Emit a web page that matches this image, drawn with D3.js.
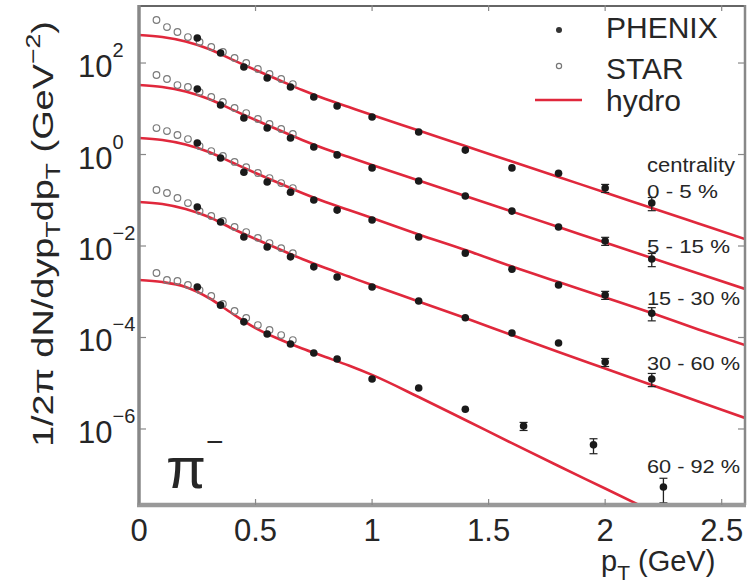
<!DOCTYPE html>
<html><head><meta charset="utf-8">
<script src="https://cdn.jsdelivr.net/npm/d3@7"></script>
<style>
body{margin:0;background:#fff}
text{font-family:"Liberation Sans",Arial,sans-serif;fill:#262626}
</style>
</head><body>
<svg id="chart" width="755" height="588"></svg>
<script>
// pi- spectra, PHENIX / STAR vs hydro, five centrality classes (already scaled by decades)
const centralities = ['0 - 5 %', '5 - 15 %', '15 - 30 %', '30 - 60 %', '60 - 92 %'];

const pTHydro = [0, 0.1, 0.2, 0.3, 0.4, 0.5, 0.6, 0.7, 0.8, 0.9, 1.0, 1.2, 1.4, 1.6, 1.8, 2.0, 2.2, 2.4, 2.6];
const hydro0_5   = [409, 370, 295, 202, 119, 70.3, 42.5, 25.7, 16.3, 10.9, 7.3, 3.35, 1.53, 0.703, 0.322, 0.148, 0.0677, 0.031, 0.0142];
const hydro5_15  = [33, 29.9, 23.8, 16.3, 9.6, 5.67, 3.43, 2.07, 1.315, 0.88, 0.589, 0.27, 0.1235, 0.0567, 0.026, 0.0119, 0.00546, 0.0025, 0.00115];
const hydro15_30 = [2.29, 2.07, 1.653, 1.132, 0.667, 0.394, 0.238, 0.144, 0.0914, 0.0611, 0.0409, 0.0179, 0.0082, 0.00356, 0.00163, 7.5e-4, 3.43e-4, 1.5e-4, 6.85e-5];
const hydro30_60 = [0.0915, 0.0828, 0.0644, 0.043, 0.0241, 0.0142, 0.0086, 0.0052, 0.0033, 0.00215, 0.0014, 6.13e-4, 2.66e-4, 1.13e-4, 4.82e-5, 2.1e-5, 9.15e-6, 3.99e-6, 1.74e-6];
const hydro60_92 = [0.00181, 0.00163, 0.00127, 7.3e-4, 3.35e-4, 1.61e-4, 9.27e-5, 5.75e-5, 3.75e-5, 2.44e-5, 1.52e-5, 5.0e-6, 1.57e-6, 4.9e-7, 1.55e-7, 5.0e-8, 1.6e-8];

const pTPhenix = [0.25, 0.35, 0.45, 0.55, 0.65, 0.75, 0.85, 1.0, 1.2, 1.4, 1.6, 1.8, 2.0, 2.2];
const pTPhenixPeriph = [0.25, 0.35, 0.45, 0.55, 0.65, 0.75, 0.85, 1.0, 1.2, 1.4, 1.65, 1.95, 2.25];
const phenix0_5   = [352, 166, 82, 47, 30, 18.1, 11.5, 6.6, 3.1, 1.25, 0.51, 0.39, 0.185, 0.087];
const phenix5_15  = [27, 12.1, 6.3, 3.8, 2.3, 1.46, 0.98, 0.51, 0.264, 0.124, 0.058, 0.026, 0.0129, 0.0052];
const phenix15_30 = [1.78, 0.84, 0.41, 0.25, 0.15, 0.101, 0.061, 0.037, 0.0157, 0.007, 0.0031, 0.00141, 8.5e-4, 3.4e-4];
const phenix30_60 = [0.071, 0.0335, 0.0157, 0.0095, 0.0058, 0.0035, 0.0021, 0.00127, 6.3e-4, 2.7e-4, 1.25e-4, 7.6e-5, 2.9e-5, 1.24e-5];
const phenix60_92 = [0.00127, 5.1e-4, 2.2e-4, 1.19e-4, 7.2e-5, 4.6e-5, 3.4e-5, 1.24e-5, 7.9e-6, 2.7e-6, 1.16e-6, 4.5e-7, 5.4e-8];
// relative errors (fraction of value)
const phenixErr = [0.03, 0.03, 0.03, 0.03, 0.03, 0.03, 0.04, 0.05, 0.06, 0.08, 0.1, 0.14, 0.2, 0.32];
const phenixErrPeriph = [0.03, 0.03, 0.03, 0.03, 0.04, 0.05, 0.06, 0.08, 0.1, 0.14, 0.2, 0.36, 0.55];

const pTStar = [0.075, 0.12, 0.165, 0.21, 0.26, 0.31, 0.36, 0.41, 0.46, 0.51, 0.56, 0.61, 0.66];
const star0_5   = [871, 612, 476, 370, 288, 224, 174, 129, 100, 74, 57.5, 44.7, 34.7];
const star5_15  = [54.7, 44.7, 33, 29.9, 23.2, 18.1, 14.1, 10.4, 8.07, 5.97, 4.64, 3.61, 2.81];
const star15_30 = [3.79, 3.26, 2.67, 2.18, 1.53, 1.19, 0.93, 0.69, 0.53, 0.394, 0.306, 0.238, 0.185];
const star30_60 = [0.1675, 0.144, 0.112, 0.087, 0.058, 0.0453, 0.0352, 0.026, 0.0202, 0.015, 0.0116, 0.009, 0.007];
const star60_92 = [0.00257, 0.00181, 0.00172, 0.00141, 0.00109, 8.1e-4, 5.4e-4, 3.8e-4, 2.67e-4, 1.87e-4, 1.46e-4, 1.13e-4, 8.8e-5];

const xTicks = [0, 0.5, 1, 1.5, 2, 2.5];
const yTickExps = [2, 0, -2, -4, -6];

const hydroSets = [hydro0_5, hydro5_15, hydro15_30, hydro30_60, hydro60_92];
const phenixSets = [
  { pT: pTPhenix, v: phenix0_5, e: phenixErr },
  { pT: pTPhenix, v: phenix5_15, e: phenixErr },
  { pT: pTPhenix, v: phenix15_30, e: phenixErr },
  { pT: pTPhenix, v: phenix30_60, e: phenixErr },
  { pT: pTPhenixPeriph, v: phenix60_92, e: phenixErrPeriph }
];
const starSets = [star0_5, star5_15, star15_30, star30_60, star60_92];

const L = 139, R = 745, T = 5, B = 505;
const svg = d3.select('#chart');
const x = d3.scaleLinear().domain([0, 2.6]).range([L, R]);
const y = d3.scaleLog().domain([2.18e-8, 1855]).range([B, T]);

svg.append('defs').append('clipPath').attr('id', 'plot')
  .append('rect').attr('x', L).attr('y', T).attr('width', R - L).attr('height', B - T);

const plot = svg.append('g').attr('clip-path', 'url(#plot)');

// hydro curves
const line = d3.line().x(d => x(d[0])).y(d => y(d[1])).curve(d3.curveMonotoneX);
plot.selectAll('path.hydro').data(hydroSets).join('path')
  .attr('class', 'hydro')
  .attr('d', vals => line(vals.map((v, i) => [pTHydro[i], v])))
  .attr('fill', 'none')
  .attr('stroke', '#e0283c')
  .attr('stroke-width', 2.6);

// STAR open circles
starSets.forEach(vals => {
  plot.append('g').selectAll('circle').data(vals.map((v, i) => [pTStar[i], v])).join('circle')
    .attr('cx', d => x(d[0])).attr('cy', d => y(d[1])).attr('r', 3.3)
    .attr('fill', 'none').attr('stroke', '#7a7a7a').attr('stroke-width', 1.2);
});

// PHENIX filled points with error bars
phenixSets.forEach(s => {
  const pts = s.v.map((v, i) => ({ pt: s.pT[i], v, e: s.e[i] * v }));
  const g = plot.append('g');
  const eb = g.selectAll('g.eb').data(pts.filter(p => p.e / p.v > 0.09)).join('g').attr('class', 'eb');
  eb.append('line')
    .attr('x1', p => x(p.pt)).attr('x2', p => x(p.pt))
    .attr('y1', p => y(p.v + p.e)).attr('y2', p => y(Math.max(p.v - p.e, 1e-12)))
    .attr('stroke', '#222').attr('stroke-width', 1.3);
  eb.filter(p => p.e / p.v > 0.15).selectAll('line.cap')
    .data(p => [p.v + p.e, p.v - p.e].map(c => ({ pt: p.pt, c }))).join('line')
    .attr('class', 'cap')
    .attr('x1', c => x(c.pt) - 4).attr('x2', c => x(c.pt) + 4)
    .attr('y1', c => y(c.c)).attr('y2', c => y(c.c))
    .attr('stroke', '#222').attr('stroke-width', 1.2);
  g.selectAll('circle').data(pts).join('circle')
    .attr('cx', p => x(p.pt)).attr('cy', p => y(p.v)).attr('r', 3.8)
    .attr('fill', '#1a1a1a');
});

// frame
const frame = svg.append('g');
frame.append('line').attr('x1', L).attr('x2', R).attr('y1', T + 1).attr('y2', T + 1).attr('stroke', '#666').attr('stroke-width', 2);
frame.append('line').attr('x1', R).attr('x2', R).attr('y1', T).attr('y2', B).attr('stroke', '#888').attr('stroke-width', 2.5);
frame.append('line').attr('x1', L).attr('x2', L).attr('y1', T).attr('y2', B + 2).attr('stroke', '#888').attr('stroke-width', 3.5);
frame.append('line').attr('x1', L - 2).attr('x2', R + 1).attr('y1', B).attr('y2', B).attr('stroke', '#999').attr('stroke-width', 4.5);

// ticks
xTicks.forEach(t => {
  frame.append('line').attr('x1', x(t)).attr('x2', x(t)).attr('y1', B).attr('y2', B - 6).attr('stroke', '#888').attr('stroke-width', 1.2);
  frame.append('line').attr('x1', x(t)).attr('x2', x(t)).attr('y1', T).attr('y2', T + 6).attr('stroke', '#888').attr('stroke-width', 1.2);
});
yTickExps.forEach(e => {
  const yy = y(Math.pow(10, e));
  frame.append('line').attr('x1', L).attr('x2', L + 7).attr('y1', yy).attr('y2', yy).attr('stroke', '#888').attr('stroke-width', 1.2);
  frame.append('line').attr('x1', R).attr('x2', R - 7).attr('y1', yy).attr('y2', yy).attr('stroke', '#888').attr('stroke-width', 1.2);
});

// tick labels
svg.append('g').selectAll('text').data(xTicks).join('text')
  .attr('x', d => x(d)).attr('y', 541)
  .attr('text-anchor', 'middle').attr('font-size', 31)
  .text(d => d3.format('')(d));

const yl = svg.append('g');
yTickExps.forEach(e => {
  const yy = y(Math.pow(10, e));
  const t = yl.append('text').attr('x', 78).attr('y', yy + 14).attr('font-size', 31);
  t.append('tspan').text('10');
  t.append('tspan').attr('dy', -20).attr('font-size', 20).text(e < 0 ? '\u2212' + (-e) : String(e));
});

// axis titles
const xt = svg.append('text').attr('x', 601).attr('y', 571).attr('font-size', 29);
xt.append('tspan').text('p');
xt.append('tspan').attr('dy', 9).attr('font-size', 21).text('T');
xt.append('tspan').attr('dy', -9).text(' (GeV)');

const ytG = svg.append('g').attr('transform', 'translate(53,447) rotate(-90)');
const yt = ytG.append('text').attr('font-size', 30);
yt.append('tspan').text('1/2\u03c0 dN/dyp');
yt.append('tspan').attr('dy', 7).attr('font-size', 21).text('T');
yt.append('tspan').attr('dy', -7).text('dp');
yt.append('tspan').attr('dy', 7).attr('font-size', 21).text('T');
yt.append('tspan').attr('dy', -7).text(' (GeV');
yt.append('tspan').attr('dy', -13).attr('font-size', 21).text('\u22122');
yt.append('tspan').attr('dy', 13).text(')');
const ytLen = yt.node().getComputedTextLength();
yt.attr('transform', `scale(${426 / ytLen},1)`);

// pi- label
const pi = svg.append('text').attr('x', 166).attr('y', 488)
  .attr('font-family', '"Liberation Serif", serif').attr('font-size', 58);
pi.append('tspan').text('\u03c0');
pi.append('tspan').attr('dy', -36).attr('font-family', '"Liberation Sans", sans-serif').attr('font-size', 30).text('\u2212');

// legend
const lg = svg.append('g');
lg.append('circle').attr('cx', 559).attr('cy', 30).attr('r', 3).attr('fill', '#333');
lg.append('circle').attr('cx', 559).attr('cy', 66).attr('r', 2.6).attr('fill', 'none').attr('stroke', '#777').attr('stroke-width', 1.2);
lg.append('line').attr('x1', 535).attr('x2', 582).attr('y1', 100).attr('y2', 100).attr('stroke', '#e0283c').attr('stroke-width', 2.6);
[['PHENIX', 38], ['STAR', 79], ['hydro', 111]].forEach(([t, yy]) => {
  lg.append('text').attr('x', 606).attr('y', yy).attr('font-size', 30).text(t);
});

// centrality labels
const cl = svg.append('g');
cl.append('text').attr('x', 647).attr('y', 172).attr('font-size', 20)
  .attr('textLength', 88).attr('lengthAdjust', 'spacingAndGlyphs').text('centrality');
const cY = [198, 253, 305, 370, 473];
const cW = [71, 83, 93, 93, 93];
centralities.forEach((c, i) => {
  cl.append('text').attr('x', 647).attr('y', cY[i]).attr('font-size', 19)
    .attr('textLength', cW[i]).attr('lengthAdjust', 'spacingAndGlyphs').text(c);
});
</script>
</body></html>
